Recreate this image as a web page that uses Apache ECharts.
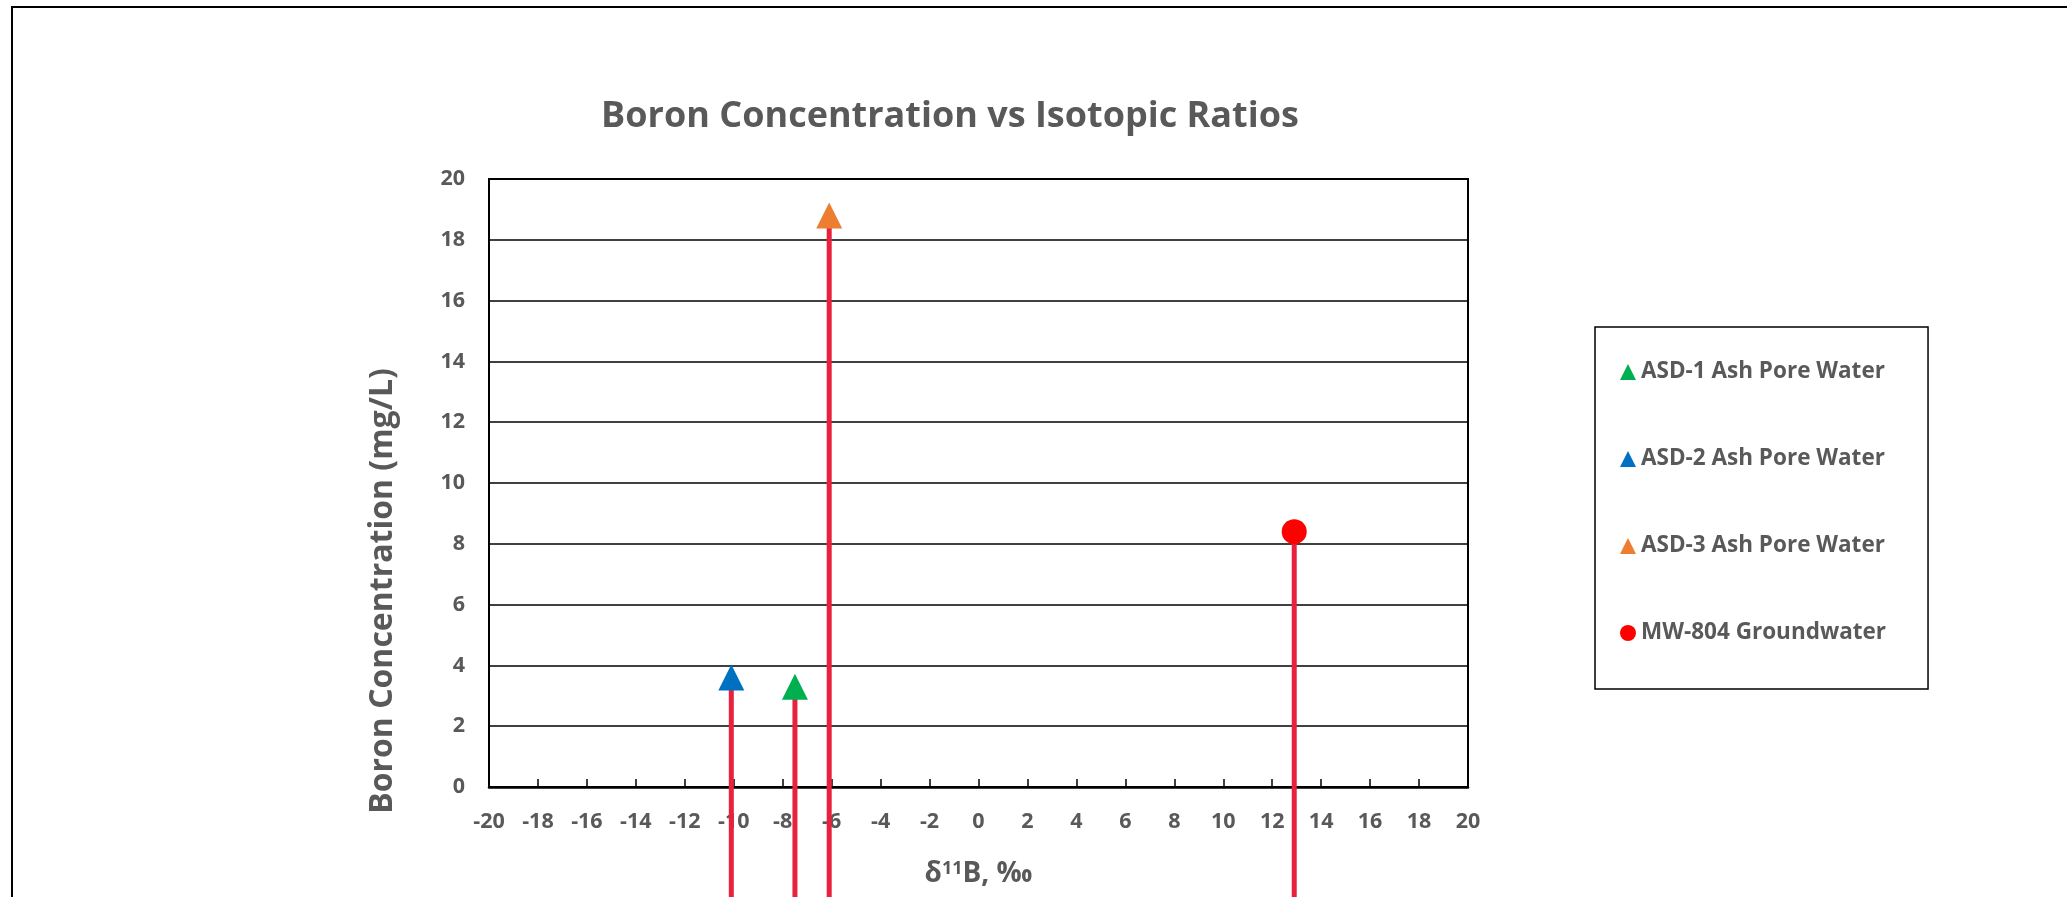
<!DOCTYPE html>
<html>
<head>
<meta charset="utf-8">
<script src="https://cdn.jsdelivr.net/npm/echarts@6/dist/echarts.min.js"></script>
<style>
  html, body { margin: 0; padding: 0; background: #fff; }
  #chart { width: 2067px; height: 897px; }
</style>
</head>
<body>
<div id="chart"></div>
<script>
// Sample names, in legend order
const sampleNames = ['ASD-1 Ash Pore Water', 'ASD-2 Ash Pore Water', 'ASD-3 Ash Pore Water', 'MW-804 Groundwater'];
// δ11B (‰) of each sample
const delta11B = [-7.5, -10.1, -6.1, 12.9];
// Boron concentration (mg/L) of each sample
const boronMgL = [3.3, 3.6, 18.8, 8.4];
// Downward error-bar length (mg/L)
const errMinus = [25, 25, 25, 25];
// Axis ranges
const xTicks = { min: -20, max: 20, step: 2 };
const yTicks = { min: 0, max: 20, step: 2 };

const markerColors = ['#00B050', '#0070C0', '#ED7D31', '#FF0000'];
const markerShapes = ['triangle', 'triangle', 'triangle', 'circle'];
const textGray = '#595959';
const fontFamily = '"Open Sans", Lato, sans-serif';

const chart = echarts.init(document.getElementById('chart'));

const series = [];
// Error bars: drawn from each point downward, not clipped to the plot area
series.push({
  type: 'custom',
  name: 'err',
  clip: false,
  z: 1,
  silent: true,
  data: delta11B.map((x, i) => [x, boronMgL[i], errMinus[i]]),
  renderItem: function (params, api) {
    const x = api.value(0), y = api.value(1), e = api.value(2);
    const p1 = api.coord([x, y]);
    const p2 = api.coord([x, y - e]);
    return {
      type: 'line',
      shape: { x1: p1[0], y1: p1[1], x2: p2[0], y2: p2[1] },
      style: { stroke: '#E8223C', lineWidth: 5 }
    };
  }
});
sampleNames.forEach((name, i) => {
  series.push({
    type: 'scatter',
    name: name,
    z: 3,
    symbol: markerShapes[i],
    symbolSize: markerShapes[i] === 'circle' ? 25 : [26, 26],
    itemStyle: { color: markerColors[i], opacity: 1 },
    data: [[delta11B[i], boronMgL[i]]]
  });
});

const option = {
  backgroundColor: '#ffffff',
  animation: false,
  textStyle: { fontFamily: fontFamily },
  grid: {
    left: 489, right: 599, top: 179, bottom: 110,
    show: true, borderColor: '#000', borderWidth: 2, backgroundColor: 'transparent'
  },
  xAxis: {
    type: 'value',
    min: xTicks.min, max: xTicks.max, interval: xTicks.step,
    name: '{t|δ}{s|11}{t|B, ‰}',
    nameLocation: 'middle',
    nameGap: 73,
    nameTextStyle: {
      rich: {
        t: { fontSize: 28, fontWeight: 'bold', color: textGray, fontFamily: fontFamily },
        s: { fontSize: 18, fontWeight: 'bold', color: textGray, fontFamily: fontFamily, verticalAlign: 'top', padding: [0, 0, 11, 0] }
      }
    },
    axisLine: { show: true, onZero: false, lineStyle: { color: '#000', width: 2.5 } },
    axisTick: { show: true, inside: true, length: 8, lineStyle: { color: '#000', width: 1.5 } },
    axisLabel: { color: textGray, fontSize: 21.5, fontWeight: 'bold', margin: 24, fontFamily: fontFamily },
    splitLine: { show: false }
  },
  yAxis: {
    type: 'value',
    min: yTicks.min, max: yTicks.max, interval: yTicks.step,
    axisLine: { show: true, onZero: false, lineStyle: { color: '#000', width: 2 } },
    axisTick: { show: false },
    axisLabel: { color: textGray, fontSize: 21.5, fontWeight: 'bold', margin: 24, fontFamily: fontFamily },
    splitLine: { show: true, lineStyle: { color: '#000', width: 1.5 } }
  },
  legend: {
    data: sampleNames,
    orient: 'vertical',
    left: 1595, top: 327,
    padding: [33, 42, 44, 25],
    itemGap: 63,
    itemWidth: 16, itemHeight: 16,
    borderColor: '#000', borderWidth: 1.5,
    textStyle: { color: textGray, fontSize: 22.5, fontWeight: 'bold', lineHeight: 24, fontFamily: fontFamily }
  },
  graphic: [
    {
      type: 'rect', silent: true, z: -1,
      shape: { x: 12, y: 7, width: 2200, height: 1000 },
      style: { fill: 'none', stroke: '#000', lineWidth: 2 }
    },
    {
      type: 'text', x: 950, y: 117,
      style: {
        text: 'Boron Concentration vs Isotopic Ratios',
        fill: textGray, font: 'bold 36px ' + fontFamily,
        textAlign: 'center', textVerticalAlign: 'middle'
      }
    },
    {
      type: 'text', x: 383, y: 591, rotation: Math.PI / 2,
      style: {
        text: 'Boron Concentration (mg/L)',
        fill: textGray, font: 'bold 32px ' + fontFamily,
        textAlign: 'center', textVerticalAlign: 'middle'
      }
    }
  ],
  series: series
};

chart.setOption(option);
</script>
</body>
</html>
